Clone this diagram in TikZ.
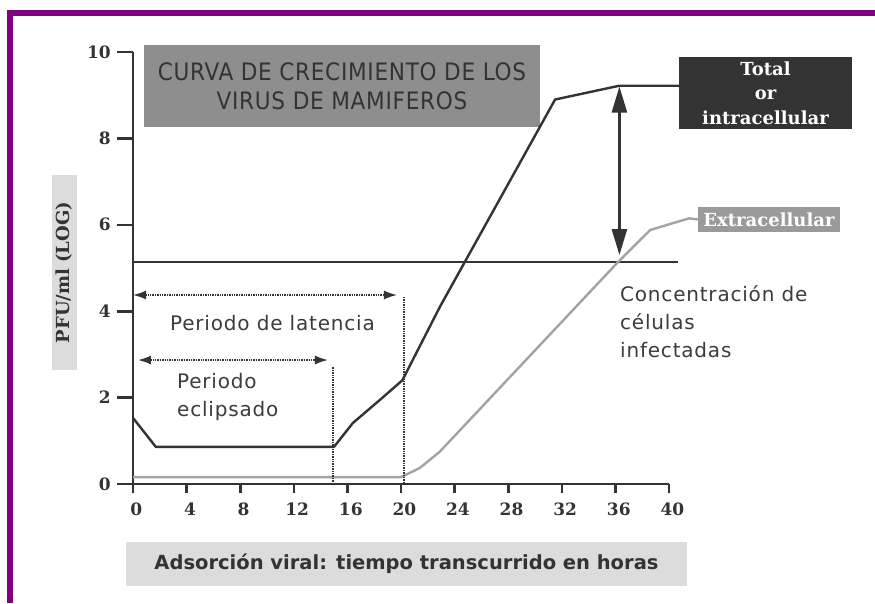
\documentclass[tikz,border=0pt]{standalone}
\usepackage{fontspec}
\newfontfamily\verd{DejaVu Sans}
\newfontfamily\verdwide[LetterSpace=4]{DejaVu Sans}
\newfontfamily\verdcond[LetterSpace=3]{DejaVu Sans Condensed}
\newfontfamily\heavyserif{DejaVu Serif}
\usepackage{tikz}
\usetikzlibrary{positioning,arrows.meta}
\definecolor{framepurple}{HTML}{800080}
\definecolor{ink}{HTML}{333333}
\definecolor{faint}{HTML}{A3A3A3}
\definecolor{titlegrey}{HTML}{8E8E8E}
\definecolor{titleink}{HTML}{333333}
\definecolor{pale}{HTML}{DCDCDC}
\definecolor{midgrey}{HTML}{9A9A9A}
\definecolor{noteink}{HTML}{3C3C3C}

\begin{document}
\begin{tikzpicture}[
    x=1pt, y=-1pt,
    axisline/.style={line width=2.6pt, draw=ink},
    totalcurve/.style={line width=2.4pt, draw=ink, line join=round},
    extcurve/.style={line width=2.4pt, draw=faint, line join=round},
    guide/.style={line width=1.7pt, draw=ink, dash pattern=on 1.4pt off 1pt},
    span/.style={guide, {Latex[length=13pt,width=9pt]}-{Latex[length=13pt,width=9pt]}},
    gap/.style={line width=2.6pt, draw=ink, {Triangle[length=26pt,width=15pt]}-{Triangle[length=26pt,width=15pt]}},
    ticklab/.style={font=\fontsize{17}{20}\selectfont\heavyserif\bfseries, text=ink, inner sep=0pt},
    note/.style={font=\fontsize{20}{28}\selectfont\verdwide, text=noteink, align=left, inner sep=0pt},
    titlebox/.style={fill=titlegrey, text=titleink, font=\fontsize{24}{29}\selectfont\verdcond, align=center, minimum width=396pt, minimum height=82pt},
    darkbox/.style={fill=ink, text=white, font=\fontsize{18}{24.5}\selectfont\heavyserif\bfseries, align=center},
    greybox/.style={fill=midgrey, text=white, font=\fontsize{18}{20}\selectfont\heavyserif\bfseries, inner sep=0pt},
    sidebox/.style={fill=pale, text=ink, inner sep=0pt}
]
    \useasboundingbox[fill=white] (0,0) rectangle (875,603);
    \fill[framepurple] (7,10) rectangle (875,16);
    \fill[framepurple] (7,10) rectangle (13,603);

    \node[titlebox] (title) at (342,86) {CURVA DE CRECIMIENTO DE LOS\\VIRUS DE MAMIFEROS};
    \node[darkbox, minimum width=173pt, minimum height=72pt] (totalbox) at (765.5,93) {Total\\or\\intracellular};
    \node[greybox, minimum width=142pt, minimum height=25pt] (extbox) at (769,219.5) {Extracellular};
    \node[sidebox, rotate=90, minimum width=195pt, minimum height=25pt, font=\fontsize{18}{22}\selectfont\heavyserif\bfseries] (ylab) at (64.5,272.5) {PFU/ml (LOG)};
    \node[sidebox, minimum width=561pt, minimum height=44pt, font=\fontsize{19.5}{22}\selectfont\verd\bfseries] (xlab) at (406.5,564) {Adsorción viral: tiempo transcurrido en horas};

    \node[note, anchor=west] (latnote) at (170,323) {Periodo de latencia};
    \node[note, anchor=west] (eclnote) at (177,397) {Periodo\\eclipsado};
    \node[note, anchor=west] (concnote) at (620,322) {Concentración de\\células\\infectadas};

    \begin{scope}[shift={(133,484)}, x=13.4pt, y=43.2pt]
        % axes and ticks
        \draw[axisline] (0,10) -- (0,0) -- (40,0);
        \foreach \y in {0,2,...,10} {
            \draw[axisline] (-1.19,\y) -- (0,\y);
            \node[ticklab, anchor=east] (y\y) at (-1.64,\y) {\y};
        }
        \foreach \x in {0,4,...,40} {
            \draw[axisline] (\x,0) -- (\x,-0.21);
            \node[ticklab] (x\x) at (\x+0.25,-0.58) {\x};
        }

        \coordinate (cut0) at (0,5.14);
        \coordinate (cut1) at (40.7,5.14);
        \draw[axisline, line width=2.4pt] (cut0) -- (cut1);

        % curves
        \coordinate (plateau) at (36.3,9.22);
        \draw[totalcurve] (0,1.53) -- (1.7,0.86) -- (15,0.86) -- (16.4,1.41) -- (18.4,1.94)
            -- (20.1,2.4) -- (22.9,4.1) -- (31.5,8.9) -- (plateau) -- (plateau -| totalbox.west);
        \draw[extcurve] (0,0.16) -- (20,0.16) -- (21.4,0.37) -- (22.9,0.75) -- (36.2,5.14)
            -- (38.6,5.88) -- (41.5,6.15) -- (extbox.west);

        % periods
        \coordinate (lat0) at (0,4.375);
        \coordinate (lat1) at (19.7,4.375);
        \coordinate (lattop) at (20.2,4.33);
        \coordinate (latfoot) at (20.2,0);
        \draw[span] (lat0) -- (lat1);
        \draw[guide] (lattop) -- (latfoot);

        \coordinate (ecl0) at (0.37,2.87);
        \coordinate (ecl1) at (14.55,2.87);
        \coordinate (ecltop) at (14.9,2.7);
        \coordinate (eclfoot) at (14.9,0);
        \draw[span] (ecl0) -- (ecl1);
        \draw[guide] (ecltop) -- (eclfoot);

        \coordinate (gaptop) at (36.3,9.2);
        \coordinate (gapfoot) at (36.3,5.3);
        \draw[gap] (gaptop) -- (gapfoot);
    \end{scope}
\end{tikzpicture}
\end{document}
